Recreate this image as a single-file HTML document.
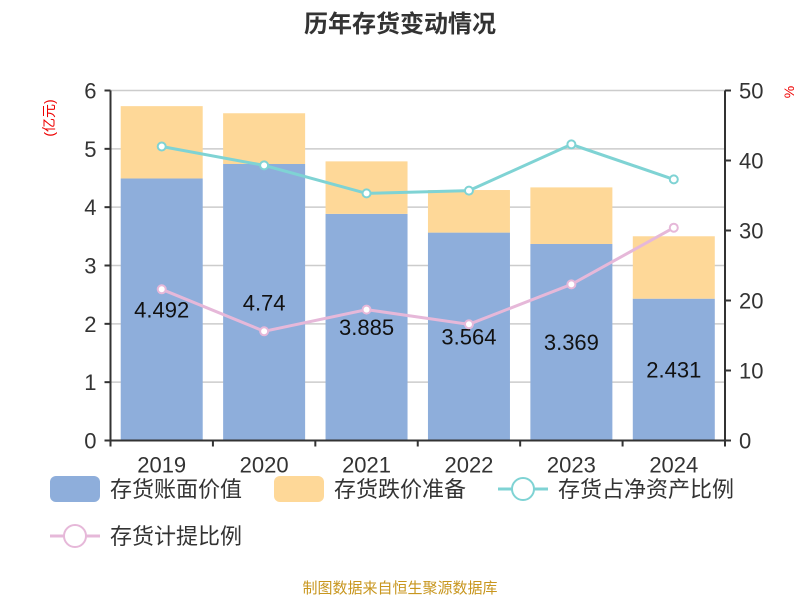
<!DOCTYPE html>
<html><head><meta charset="utf-8"><style>
body{margin:0;background:#fff;font-family:"Liberation Sans","Noto Sans CJK SC",sans-serif}
svg text{font-family:"Liberation Sans","Noto Sans CJK SC",sans-serif}
</style></head><body>
<svg id="c" width="800" height="600" xmlns="http://www.w3.org/2000/svg">
<text x="400" y="32" text-anchor="middle" font-size="24" font-weight="bold" fill="#333">历年存货变动情况</text>
<text transform="translate(54,118) rotate(-90)" text-anchor="middle" font-size="14" fill="#e00">(亿元)</text>
<text transform="translate(794,92) rotate(-90)" text-anchor="middle" font-size="14" fill="#e00">%</text>
<g id="grid"></g><g id="bars"></g><g id="lines"></g><g id="axes"></g><g id="legend"></g>
<text x="400" y="593" text-anchor="middle" font-size="15" fill="#c8961e">制图数据来自恒生聚源数据库</text>
</svg>
<script>
const years=["2019","2020","2021","2022","2023","2024"];
const bookValue=[4.492,4.74,3.885,3.564,3.369,2.431];
const provision=[1.24,0.87,0.90,0.73,0.97,1.07];
const ratioNetAssets=[42.0,39.3,35.3,35.7,42.3,37.3];
const ratioProvision=[21.6,15.6,18.7,16.6,22.3,30.4];
const leftTicks=[0,1,2,3,4,5,6];
const rightTicks=[0,10,20,30,40,50];
const NS="http://www.w3.org/2000/svg";
const X0=110.5,X1=725,Y0=440.5,Y1=90.5,bw=(X1-X0)/years.length;
const xc=i=>X0+bw*(i+0.5);
const yl=v=>Y0-(v/6)*(Y0-Y1);
const yr=v=>Y0-(v/50)*(Y0-Y1);
function mk(p,t,a){const e=document.createElementNS(NS,t);for(const k in a)e.setAttribute(k,a[k]);document.getElementById(p).appendChild(e);return e;}
leftTicks.forEach(t=>{if(t>0){const g=mk('grid','line',{x1:X0,x2:X1,y1:yl(t),y2:yl(t),stroke:'#ccc','stroke-width':1.5});

}
const l=mk('axes','text',{x:X0-14,y:yl(t)+8,'text-anchor':'end','font-size':22,fill:'#333'});l.textContent=t;


mk('axes','line',{x1:X0-6,x2:X0,y1:yl(t),y2:yl(t),stroke:'#333','stroke-width':2});});
rightTicks.forEach(t=>{const l=mk('axes','text',{x:X1+14,y:yr(t)+8,'font-size':22,fill:'#333'});l.textContent=t;


mk('axes','line',{x1:X1,x2:X1+6,y1:yr(t),y2:yr(t),stroke:'#333','stroke-width':2});});
mk('axes','line',{x1:X0,x2:X0,y1:Y1,y2:Y0,stroke:'#333','stroke-width':2});
mk('axes','line',{x1:X1,x2:X1,y1:Y1,y2:Y0+6,stroke:'#333','stroke-width':2});
mk('axes','line',{x1:X0,x2:X1,y1:Y0,y2:Y0,stroke:'#333','stroke-width':2});
years.forEach((y,i)=>{mk('axes','line',{x1:X0+bw*i,x2:X0+bw*i,y1:Y0,y2:Y0+6,stroke:'#333','stroke-width':2});
const t=mk('axes','text',{x:xc(i),y:Y0+32,'text-anchor':'middle','font-size':22,fill:'#333'});t.textContent=y;


const w=82,bx=xc(i)-w/2;
const b=mk('bars','rect',{x:bx,y:yl(bookValue[i]),width:w,height:Y0-yl(bookValue[i]),fill:'#8eaedb'});


const p=mk('bars','rect',{x:bx,y:yl(bookValue[i]+provision[i]),width:w,height:yl(bookValue[i])-yl(bookValue[i]+provision[i]),fill:'#fed898'});


const v=mk('bars','text',{x:xc(i),y:(yl(bookValue[i])+Y0)/2+8,'text-anchor':'middle','font-size':22,fill:'#111'});v.textContent=bookValue[i];

});
function line(arr,col,name){const pl=mk('lines','polyline',{points:arr.map((v,i)=>xc(i)+','+yr(v)).join(' '),fill:'none',stroke:col,'stroke-width':3});


arr.forEach((v,i)=>{const c=mk('lines','circle',{cx:xc(i),cy:yr(v),r:4,fill:'#fff',stroke:col,'stroke-width':2});

});}
line(ratioNetAssets,'#7fd3d4','ratio-net-assets');
line(ratioProvision,'#e6b8d9','ratio-provision');
function leg(x,y,kind,col,label){if(kind==='rect'){const r=mk('legend','rect',{x:x,y:y-13,width:50,height:26,rx:6,fill:col});

}
else{mk('legend','line',{x1:x,x2:x+50,y1:y,y2:y,stroke:col,'stroke-width':3});
const c=mk('legend','circle',{cx:x+25,cy:y,r:11,fill:'#fff',stroke:col,'stroke-width':2});

}
const t=mk('legend','text',{x:x+60,y:y+8,'font-size':22,fill:'#333'});t.textContent=label;

}
leg(50,489,'rect','#8eaedb','存货账面价值');
leg(274,489,'rect','#fed898','存货跌价准备');
leg(498,489,'line','#7fd3d4','存货占净资产比例');
leg(50,536,'line','#e6b8d9','存货计提比例');
</script>
</body></html>
